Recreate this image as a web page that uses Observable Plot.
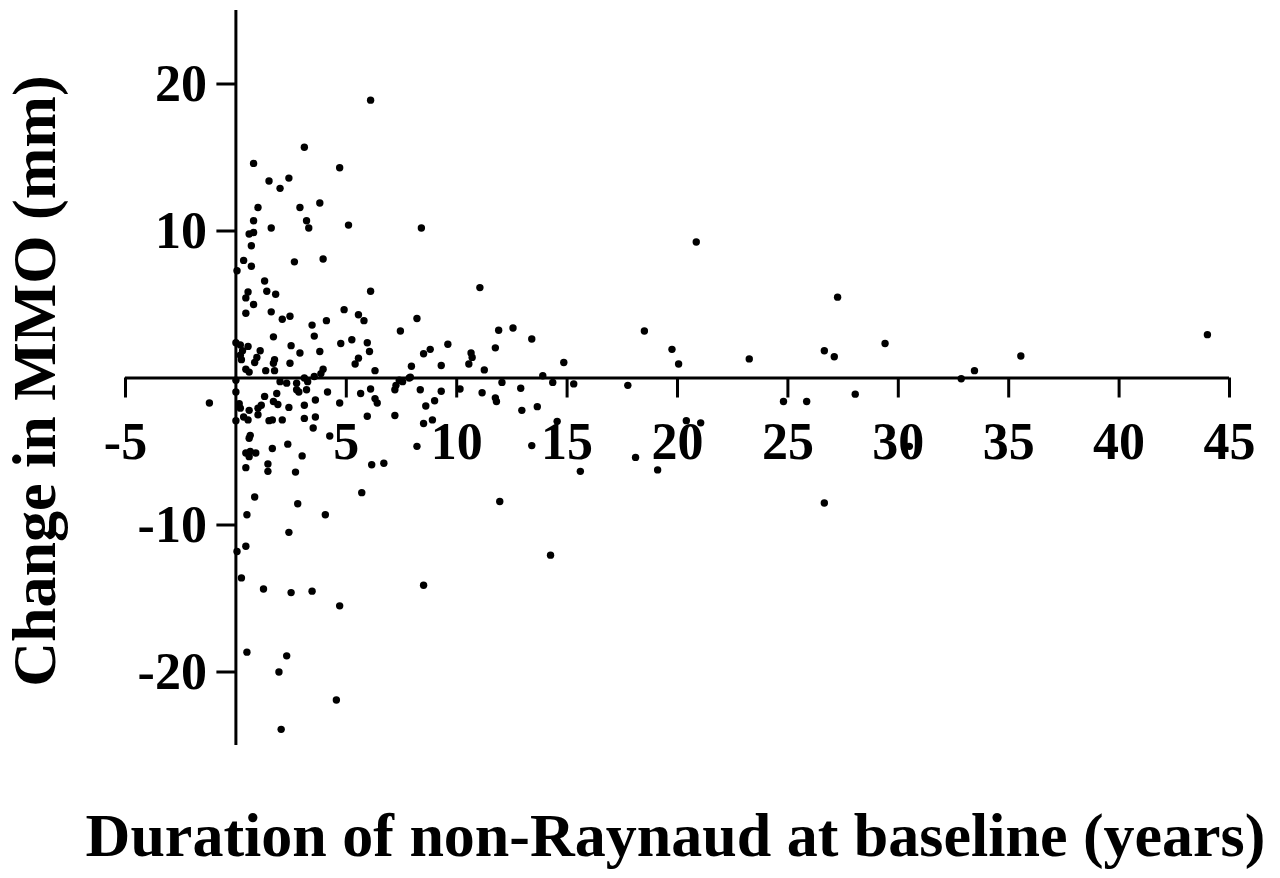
<!DOCTYPE html>
<html>
<head>
<meta charset="utf-8">
<script src="https://cdn.jsdelivr.net/npm/d3@7"></script>
<script src="https://cdn.jsdelivr.net/npm/@observablehq/plot@0.6"></script>
<style>
  body { margin: 0; background: #fff; }
</style>
</head>
<body>
<div id="chart"></div>
<script>
// duration of non-Raynaud at baseline (years) and change in MMO (mm)
const durationYears = [
  6.1, 3.1, 0.8, 4.7, 1.5, 2.4, 2.0, 1.0, 2.9, 3.8, 0.8, 3.2, 3.3, 5.1, 8.4, 1.6, 0.6, 0.8, 0.7, 0.35,
  0.7, 2.65, 3.95, 0.05, 1.3, 0.55, 0.45, 1.4, 1.8, 0.8, 0.45, 1.6, 6.1, 4.9, 5.55, 5.8, 2.1, 2.45, 4.1, 3.45,
  8.2, 7.45, 3.55, 1.7, 4.75, 5.25, 5.95, 6.05, 2.5, 2.9, 3.8, 0.0, 0.2, 0.55, 0.3, 0.2, 0.25, 1.1, 0.95, 0.85,
  1.75, 1.7, 2.45, 0.45, 0.6, 1.35, 1.75, 5.4, 5.55, 6.3, 3.95, 3.85, 3.55, 7.95, 7.9, 8.5, 8.8, 9.3, 9.6, 0.0,
  2.0, 2.3, 2.75, 3.1, 3.25, 2.75, 2.85, 3.2, 7.25, 7.4, 7.85, 7.55, 0.0, -1.2, 0.15, 0.2, 1.3, 1.85, 1.7, 1.9,
  2.4, 3.1, 3.6, 4.15, 4.7, 5.65, 6.1, 6.3, 6.4, 7.2, 8.35, 8.6, 9.0, 9.3, 0.6, 1.0, 1.15, 0.35, 0.55, 0.0,
  1.5, 1.65, 2.1, 3.1, 3.6, 3.5, 5.95, 7.2, 8.5, 8.9, 4.25, 8.2, 0.65, 0.6, 0.45, 0.65, 0.9, 0.6, 1.65, 2.35,
  3.0, 0.45, 1.45, 1.45, 2.7, 6.15, 6.7, 1.0, 0.85, 2.8, 5.7, 0.5, 4.05, 2.4, 0.45, 0.05, 0.25, 1.25, 2.5, 3.45,
  4.7, 8.5, 0.5, 2.3, 1.95, 4.55, 2.05, 20.85, 11.05, 11.9, 12.55, 13.4, 11.75, 10.65, 10.7, 10.55, 11.25, 14.85, 18.5, 19.75,
  20.05, 13.9, 14.35, 15.3, 17.75, 12.05, 10.15, 11.15, 11.75, 11.8, 12.9, 12.95, 13.65, 14.55, 20.4, 13.4, 15.6, 18.1, 19.1, 21.05,
  11.95, 14.25, 27.25, 23.25, 26.65, 27.1, 29.4, 35.55, 33.45, 32.85, 24.8, 25.85, 28.05, 26.65, 30.5, 44.0
];
const mmoChange = [
  18.9, 15.7, 14.6, 14.3, 13.4, 13.6, 12.9, 11.6, 11.6, 11.9, 10.7, 10.7, 10.2, 10.4, 10.2, 10.2, 9.8, 9.9, 9.0, 8.0,
  7.6, 7.9, 8.1, 7.3, 6.6, 5.85, 5.45, 5.9, 5.7, 5.0, 4.4, 4.5, 5.9, 4.65, 4.3, 3.9, 4.0, 4.2, 3.9, 3.6,
  4.05, 3.2, 2.85, 2.8, 2.35, 2.6, 2.4, 1.8, 2.2, 1.7, 1.8, 2.4, 2.25, 2.15, 1.85, 1.55, 1.25, 1.85, 1.4, 1.05,
  1.25, 1.0, 1.0, 0.6, 0.4, 0.5, 0.5, 0.95, 1.35, 0.5, 0.6, 0.3, 0.1, 0.8, 0.05, 1.65, 1.95, 0.85, 2.3, -0.15,
  -0.25, -0.35, -0.35, 0.0, -0.25, -0.8, -0.95, -0.8, -0.5, -0.15, 0.0, -0.25, -0.95, -1.7, -1.75, -2.05, -1.25, -1.05, -1.6, -1.8,
  -2.0, -1.85, -1.5, -0.95, -1.7, -1.05, -0.75, -1.4, -1.7, -0.8, -0.8, -1.9, -1.55, -0.9, -2.2, -2.05, -1.85, -2.65, -2.85, -2.9,
  -2.9, -2.85, -2.85, -2.75, -2.65, -3.4, -2.6, -2.55, -3.1, -2.85, -3.95, -4.65, -3.9, -4.1, -5.1, -5.0, -5.1, -5.35, -4.8, -4.5,
  -5.3, -6.1, -5.85, -6.35, -6.4, -5.9, -5.8, -2.5, -8.1, -8.55, -7.8, -9.3, -9.3, -10.5, -11.45, -11.8, -13.6, -14.35, -14.6, -14.5,
  -15.5, -14.1, -18.65, -18.9, -20.0, -21.9, -23.9, 9.25, 6.15, 3.25, 3.4, 2.65, 2.05, 1.7, 1.4, 0.95, 0.55, 1.05, 3.2, 1.95,
  0.95, 0.15, -0.3, -0.4, -0.5, -0.3, -0.75, -1.0, -1.35, -1.6, -0.7, -2.2, -1.95, -2.95, -2.9, -4.6, -6.35, -5.4, -6.25, -3.05,
  -8.4, -12.05, 5.5, 1.3, 1.85, 1.45, 2.35, 1.5, 0.5, -0.05, -1.6, -1.6, -1.1, -8.5, -4.65, 2.95
];

const xTicks = [-5, 5, 10, 15, 20, 25, 30, 35, 40, 45];
const yTicks = [-20, -10, 10, 20];
const xDomain = [-5, 45];
const yDomain = [-25, 25];
const xTitle = "Duration of non-Raynaud at baseline (years)";
const yTitle = "Change in MMO (mm)";

const points = durationYears.map((d, i) => ({duration: d, change: mmoChange[i]}));

const W = 1280, H = 878;
const mL = 125, mR = 51, mT = 10, mB = 133;
// tick lengths in data units (20px down, 19px left)
const xTickLen = 20 * (yDomain[1] - yDomain[0]) / (H - mT - mB);
const yTickLen = 19 * (xDomain[1] - xDomain[0]) / (W - mL - mR);

const font = "'Liberation Serif', 'Times New Roman', serif";

const chart = Plot.plot({
  width: W,
  height: H,
  marginLeft: mL,
  marginRight: mR,
  marginTop: mT,
  marginBottom: mB,
  style: {fontFamily: font, background: "#fff", color: "#000"},
  x: {domain: xDomain, axis: null},
  y: {domain: yDomain, axis: null},
  marks: [
    // axes through the origin
    Plot.ruleY([0], {x1: xDomain[0], x2: xDomain[1], stroke: "#000", strokeWidth: 3}),
    Plot.ruleX([0], {y1: yDomain[0], y2: yDomain[1], stroke: "#000", strokeWidth: 3}),
    Plot.ruleX(xTicks, {x: d => d, y1: 0, y2: -xTickLen, stroke: "#000", strokeWidth: 3}),
    Plot.ruleY(yTicks, {y: d => d, x1: 0, x2: -yTickLen, stroke: "#000", strokeWidth: 3}),
    Plot.text(xTicks, {
      x: d => d, y: 0, text: d => String(d),
      dy: 64, lineAnchor: "middle", textAnchor: "middle",
      fontSize: 52, fontWeight: "bold", fill: "#000"
    }),
    Plot.text(yTicks, {
      x: 0, y: d => d, text: d => String(d),
      dx: -29, textAnchor: "end", lineAnchor: "middle",
      fontSize: 52, fontWeight: "bold", fill: "#000"
    }),
    Plot.dot(points, {x: "duration", y: "change", r: 3.7, fill: "#000", stroke: null}),
    // axis titles
    Plot.text([xTitle], {
      frameAnchor: "bottom", text: d => d, dx: -2, dy: 110,
      textAnchor: "middle", lineAnchor: "bottom",
      fontSize: 62, fontWeight: "bold", fill: "#000"
    }),
    Plot.text([yTitle], {
      frameAnchor: "left", text: d => d, dx: -90, dy: 3, rotate: -90,
      textAnchor: "middle", lineAnchor: "middle",
      fontSize: 62, fontWeight: "bold", fill: "#000"
    })
  ]
});

document.getElementById("chart").append(chart);
</script>
</body>
</html>
